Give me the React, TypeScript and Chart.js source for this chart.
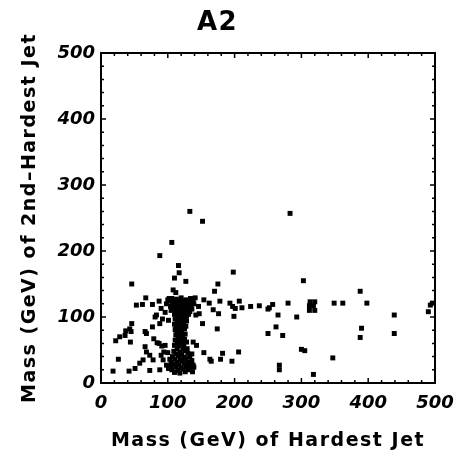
import { useEffect, useRef } from "react";
import { Chart, registerables } from "chart.js";

Chart.register(...registerables);

const chartTitle = "A2";
const xAxisTitle = "Mass (GeV) of Hardest Jet";
const yAxisTitle = "Mass (GeV) of 2nd–Hardest Jet";
const axisMin = 0;
const axisMax = 500;
const majorStep = 100;
const minorStep = 20;

// high outliers
const outlierX = [133, 152, 106, 88, 116, 117, 110, 127, 198, 46, 175, 170, 108, 112, 283, 303, 388];
const outlierY = [260, 245, 213, 193, 178, 167, 159, 154, 168, 150, 150, 139, 141, 137, 257, 155, 139];

// points right of the main column
const midRightX = [141, 154, 162, 178, 193, 197, 201, 207, 211, 224, 237, 250, 146, 142, 147, 168, 176, 199, 152, 174, 250, 138, 143, 154, 163, 165, 182, 179, 196, 206, 136, 138, 137, 139];
const midRightY = [129, 126, 121, 124, 121, 116, 113, 124, 114, 116, 117, 112, 116, 103, 105, 111, 105, 101, 90, 82, 75, 62, 57, 46, 36, 33, 45, 36, 33, 47, 34, 27, 17, 24];

// far right points
const farRightX = [252, 257, 280, 265, 293, 262, 272, 313, 320, 312, 318, 312, 320, 349, 362, 398, 439, 439, 390, 388, 300, 305, 347, 267, 267, 318, 493, 490, 496];
const farRightY = [114, 119, 121, 103, 100, 85, 72, 123, 123, 117, 117, 110, 110, 121, 121, 121, 103, 75, 83, 69, 51, 49, 38, 27, 20, 13, 118, 108, 121];

// left cluster
const leftX = [67, 53, 62, 77, 87, 90, 83, 81, 92, 88, 101, 77, 46, 43, 45, 37, 28, 36, 22, 44, 66, 68, 79, 87, 84, 91, 94, 66, 68, 73, 78, 63, 58, 51, 42, 18, 26, 73, 88, 90, 93, 98, 96, 101, 100, 96, 98, 102];
const leftY = [129, 118, 119, 119, 124, 113, 103, 100, 97, 90, 95, 85, 90, 82, 78, 79, 70, 72, 64, 62, 78, 75, 67, 60, 61, 56, 47, 55, 47, 42, 35, 35, 30, 22, 18, 18, 36, 19, 20, 42, 35, 27, 57, 22, 46, 107, 120, 128];

// dense upper block near (120, 115)
const upperBlockX = [106, 113, 120, 127, 134, 103, 110, 117, 124, 131, 138, 107, 114, 121, 128, 135, 104, 111, 118, 125, 132, 108, 115, 122, 129, 112, 119, 126, 133, 110, 117, 124, 114, 121, 128, 100, 139, 136, 105, 131];
const upperBlockY = [128, 127, 129, 126, 128, 124, 123, 125, 124, 122, 124, 120, 119, 121, 120, 118, 116, 115, 117, 116, 114, 112, 111, 113, 112, 108, 107, 109, 108, 104, 103, 105, 100, 99, 101, 126, 120, 112, 110, 104];

// middle column
const columnX = [111, 118, 125, 114, 121, 128, 110, 117, 124, 113, 120, 127, 111, 118, 125, 114, 121, 112, 119, 126, 115, 122, 111, 118, 125, 114, 121, 128, 110, 117, 124];
const columnY = [97, 96, 98, 93, 92, 94, 89, 88, 90, 85, 84, 86, 81, 80, 82, 77, 76, 73, 72, 74, 69, 68, 65, 64, 66, 61, 60, 62, 57, 56, 58];

// dense lower block near (120, 30)
const lowerBlockX = [114, 123, 109, 118, 126, 112, 121, 130, 107, 116, 124, 133, 111, 119, 127, 105, 114, 122, 130, 109, 117, 125, 134, 112, 120, 128, 106, 115, 123, 131, 110, 118, 126, 103, 136, 135, 104, 129];
const lowerBlockY = [52, 51, 48, 47, 49, 44, 43, 45, 40, 41, 39, 40, 36, 35, 37, 32, 31, 33, 32, 28, 27, 29, 28, 24, 23, 25, 20, 19, 21, 20, 16, 15, 17, 36, 44, 24, 26, 52];

const hardestJetMass = [...outlierX, ...midRightX, ...farRightX, ...leftX, ...upperBlockX, ...columnX, ...lowerBlockX];
const secondJetMass = [...outlierY, ...midRightY, ...farRightY, ...leftY, ...upperBlockY, ...columnY, ...lowerBlockY];

const framePlugin = {
  id: "frameTicks",
  beforeDraw(chart: any) {
    chart.ctx.letterSpacing = "1.5px";
  },
  beforeDatasetsDraw(chart: any) {
    chart.ctx.letterSpacing = "0px";
  },
  afterDraw(chart: any) {
    const { ctx, chartArea, scales } = chart;
    const { left, right, top, bottom } = chartArea;
    const xs = scales.x;
    const ys = scales.y;
    ctx.save();
    ctx.letterSpacing = "0px";
    ctx.strokeStyle = "#000";
    ctx.lineWidth = 2;
    ctx.strokeRect(left, top, right - left, bottom - top);
    ctx.lineWidth = 1.5;
    ctx.beginPath();
    for (let v = axisMin; v <= axisMax; v += minorStep) {
      const len = v % majorStep === 0 ? 5 : 3;
      const px = xs.getPixelForValue(v);
      ctx.moveTo(px, bottom);
      ctx.lineTo(px, bottom - len);
      ctx.moveTo(px, top);
      ctx.lineTo(px, top + len);
      const py = ys.getPixelForValue(v);
      ctx.moveTo(left, py);
      ctx.lineTo(left + len, py);
      ctx.moveTo(right, py);
      ctx.lineTo(right - len, py);
    }
    ctx.stroke();
    ctx.restore();
  },
};

export default function App() {
  const canvasRef = useRef<HTMLCanvasElement | null>(null);

  useEffect(() => {
    const canvas = canvasRef.current;
    if (!canvas) return;
    const tickFont = { family: "DejaVu Sans", size: 18, weight: "bold" as const, style: "italic" as const };
    const titleFont = { family: "DejaVu Sans", size: 19, weight: "bold" as const };
    const chart = new Chart(canvas, {
      type: "scatter",
      data: {
        datasets: [
          {
            data: hardestJetMass.map((x, i) => ({ x, y: secondJetMass[i] })),
            pointStyle: "rect",
            pointRadius: 3.5,
            pointBorderWidth: 0,
            backgroundColor: "#000",
            borderColor: "#000",
          },
        ],
      },
      options: {
        animation: false,
        responsive: false,
        devicePixelRatio: 1,
        layout: { padding: { left: 0, right: 33, top: 0, bottom: 0 } },
        plugins: {
          legend: { display: false },
          tooltip: { enabled: false },
          title: {
            display: true,
            text: chartTitle,
            color: "#000",
            font: { family: "DejaVu Sans", size: 26, weight: "bold" },
            padding: { top: 8, bottom: 13.8 },
          },
        },
        scales: {
          x: {
            type: "linear",
            min: axisMin,
            max: axisMax,
            grid: { display: false, drawTicks: false },
            border: { display: false },
            ticks: { stepSize: majorStep, color: "#000", font: tickFont, padding: 10, z: 1, maxRotation: 0 },
            title: { display: true, text: xAxisTitle, color: "#000", font: titleFont, padding: { top: 0, bottom: 2 } },
            afterFit: (s: any) => {
              s.height = 71;
            },
          },
          y: {
            type: "linear",
            min: axisMin,
            max: axisMax,
            grid: { display: false, drawTicks: false },
            border: { display: false },
            ticks: { stepSize: majorStep, color: "#000", font: tickFont, padding: 6, z: 1 },
            title: { display: true, text: yAxisTitle, color: "#000", font: titleFont, padding: { top: 19, bottom: 0 } },
            afterFit: (s: any) => {
              s.width = 101;
            },
          },
        },
      },
      plugins: [framePlugin],
    });
    return () => chart.destroy();
  }, []);

  return (
    <div style={{ position: "absolute", left: 0, top: 0, width: 468, height: 454, background: "#fff" }}>
      <canvas ref={canvasRef} width={468} height={454} style={{ display: "block" }} />
    </div>
  );
}
